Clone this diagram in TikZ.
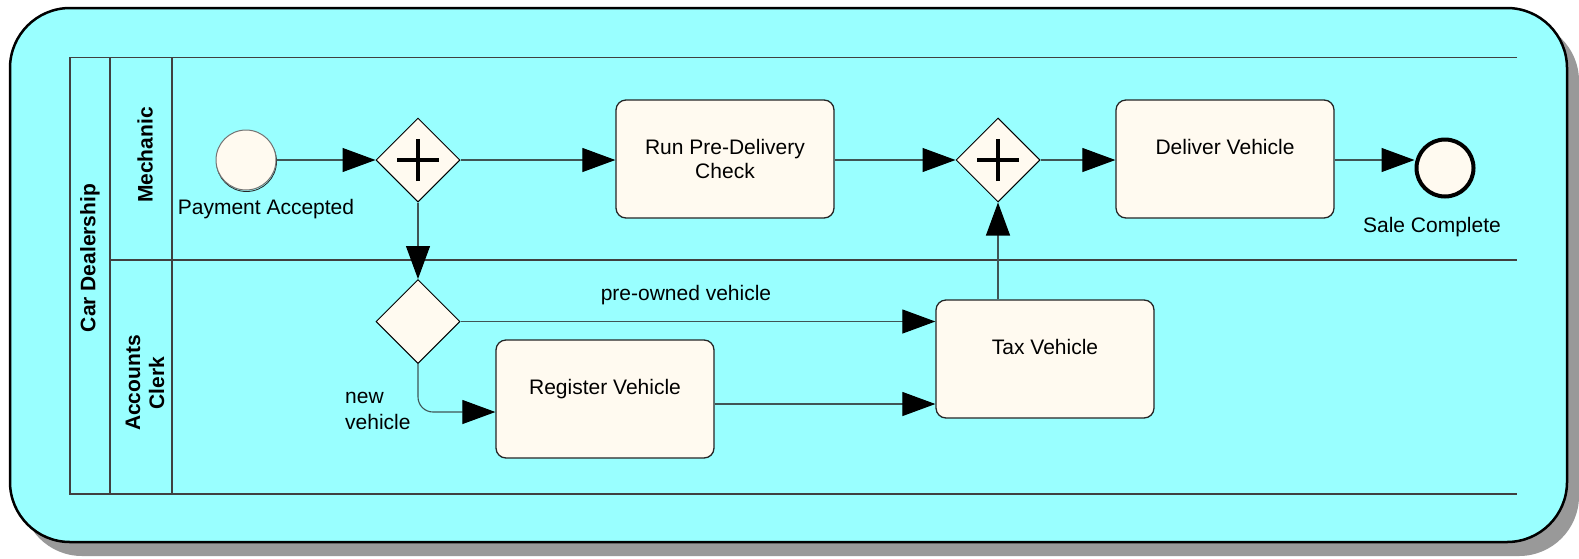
\documentclass[tikz,border=0pt]{standalone}
\usepackage{fontspec}
\setmainfont{Liberation Sans}
\usetikzlibrary{arrows.meta,shapes.geometric,calc}

\definecolor{poolbg}{HTML}{99FFFF}
\definecolor{taskfill}{HTML}{FFFAF0}
\definecolor{flowline}{HTML}{3F5555}
\definecolor{shadowgrey}{HTML}{999999}

\begin{document}
\begin{tikzpicture}[x=1pt,y=-1pt,
  every node/.style={font=\fontsize{21}{24}\selectfont, text=black},
  task/.style={draw=black!85, line width=1.3pt, fill=taskfill, rounded corners=10pt,
    minimum width=218pt, minimum height=118pt, align=center, inner sep=0pt},
  gateway/.style={diamond, draw=black, line width=1pt, fill=taskfill, aspect=1,
    minimum width=84pt, minimum height=84pt, inner sep=0pt},
  parallel/.style={gateway, path picture={
    \draw[line width=4pt, black] (path picture bounding box.center) ++(-21pt,0) -- ++(42pt,0);
    \draw[line width=4pt, black] (path picture bounding box.center) ++(0,-21pt) -- ++(0,42pt);}},
  startev/.style={circle, draw=black!55, line width=1pt, fill=taskfill, minimum size=60pt, inner sep=0pt},
  endev/.style={circle, draw=black, line width=4pt, fill=taskfill, minimum size=57pt, inner sep=0pt},
  flow/.style={draw=flowline, line width=1.1pt, -{Triangle[length=33pt,width=24pt,color=black]}},
  lane/.style={draw=black!75, line width=1.3pt},
  lanelabel/.style={font=\fontsize{21}{24}\selectfont\bfseries, rotate=90, align=center},
  plainlabel/.style={inner sep=0pt}
]
\useasboundingbox (0,0) rectangle (1579,558);

% frame with drop shadow
\fill[shadowgrey, rounded corners=60pt] (22,21) rectangle (1579,556);
\draw[fill=poolbg, line width=2.5pt, rounded corners=60pt] (10,8) rectangle (1567,542);

% pool and lanes
\draw[lane] (1517,57.5) -- (70,57.5) -- (70,494) -- (1517,494);
\draw[lane] (110,57.5) -- (110,494);
\draw[lane] (172,57.5) -- (172,494);
\draw[lane] (110,260) -- (1517,260);

\node[lanelabel] (poolname) at (90,258) {Car Dealership};
\node[lanelabel] (lanemech) at (145,155) {Mechanic};
\node[lanelabel] (laneclerk) at (145,383) {Accounts\\Clerk};

% events
\draw[black!85, line width=0.8pt] (246.5,161.5) circle (30pt);
\node[startev] (start) at (246,160) {};
\node[plainlabel] (paylbl) at (266,209) {Payment Accepted};
\node[endev] (end) at (1445,168) {};
\node[plainlabel] (salelbl) at (1432,227) {Sale Complete};

% gateways
\node[parallel] (split) at (418,160) {};
\node[parallel] (join) at (998,160) {};
\node[gateway] (decide) at (418,321.5) {};

% tasks
\node[task] (run) at (725,159) {Run Pre-Delivery\\Check};
\node[task] (deliver) at (1225,159) {Deliver Vehicle\\\mbox{}};
\node[task] (register) at (605,399) {Register Vehicle\\\mbox{}};
\node[task] (tax) at (1045,359) {Tax Vehicle\\\mbox{}};

% flow labels
\node[plainlabel] (prelbl) at (686,295) {pre-owned vehicle};
\node[plainlabel, anchor=west, align=left] (newlbl) at (345,411) {new\\[2pt]vehicle};

% sequence flows
\draw[flow] (start) -- (split);
\draw[flow] (split) -- (split -| run.west);
\draw[flow] (split) -- (decide);
\draw[flow] (decide.east) -- (decide.east -| tax.west);
\draw[flow, rounded corners=15pt] (decide.south) |- ([yshift=-13pt]register.west);
\draw[flow] ([yshift=-5pt]register.east) -- ([yshift=-5pt]register.east -| tax.west);
\draw[flow] (tax.north -| join.south) -- (join.south);
\draw[flow] (run.east |- join) -- (join);
\draw[flow] (join) -- (join -| deliver.west);
\draw[flow] (deliver.east |- join) -- (deliver.east |- join -| end.west);
\end{tikzpicture}
\end{document}
